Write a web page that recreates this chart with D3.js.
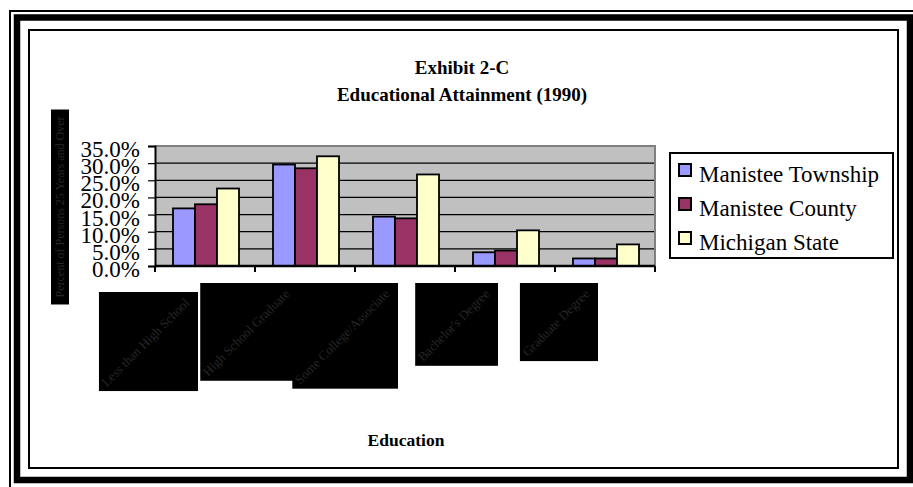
<!DOCTYPE html>
<html>
<head>
<meta charset="utf-8">
<script src="https://d3js.org/d3.v7.min.js"></script>
<style>
body { margin: 0; background: #fff; }
text { font-family: "Liberation Serif", "Times New Roman", serif; }
</style>
</head>
<body>
<div class="content"></div>
<script>

// values (share of adults, %)
var categories = ['Less than High School', 'High School Graduate', 'Some College/Associate', "Bachelor's Degree", 'Graduate Degree'];
var series = ['Manistee Township', 'Manistee County', 'Michigan State'];
var township = [16.8, 29.6, 14.4, 4.0, 2.2];
var county = [18.0, 28.5, 13.9, 4.5, 2.2];
var michigan = [22.6, 32.0, 26.7, 10.4, 6.3];
var yTicks = [0, 5, 10, 15, 20, 25, 30, 35];
var colors = ['#9999FF', '#993366', '#FFFFCC'];

var values = [township, county, michigan];

var svgWidth = 913,
    svgHeight = 487;

var svg = d3.select('div.content')
    .append('svg')
        .attr('width', svgWidth)
        .attr('height', svgHeight)

// frame
svg.append('rect')
    .attr('x', 10).attr('y', 11)
    .attr('width', 920).attr('height', 500)
    .style('fill', 'none').style('stroke', 'black').style('stroke-width', 2)
svg.append('rect')
    .attr('x', 17).attr('y', 17.5)
    .attr('width', 893).attr('height', 462.5)
    .style('fill', 'none').style('stroke', 'black').style('stroke-width', 6.5)
svg.append('rect')
    .attr('x', 29).attr('y', 30)
    .attr('width', 869).attr('height', 438)
    .style('fill', '#fff').style('stroke', 'black').style('stroke-width', 2)

var plotLeft = 155, plotRight = 655, plotTop = 146, plotBottom = 266;

var x0 = d3.scaleBand()
    .domain(categories)
    .range([plotLeft, plotRight])

var x1 = d3.scaleBand()
    .domain(series)
    .range([18, 84])

var y = d3.scaleLinear()
    .domain([0, 35])
    .range([plotBottom, plotTop])

// plot area
svg.append('rect')
    .attr('x', plotLeft).attr('y', plotTop)
    .attr('width', plotRight - plotLeft).attr('height', plotBottom - plotTop)
    .style('fill', '#C0C0C0')

svg.selectAll('line.grid')
    .data(yTicks.filter(function(d){ return d > 0 && d < 35 }))
    .enter()
    .append('line')
        .attr('class', 'grid')
        .attr('x1', plotLeft).attr('x2', plotRight)
        .attr('y1', function(d){ return y(d) }).attr('y2', function(d){ return y(d) })
        .style('stroke', 'black').style('stroke-width', 1.2)

// gray border top and right
svg.append('path')
    .attr('d', 'M' + plotLeft + ',' + y(35) + 'H' + plotRight + 'V' + plotBottom)
    .style('fill', 'none').style('stroke', '#808080').style('stroke-width', 2)

// bars
var groups = svg.selectAll('g.cat')
    .data(categories)
    .enter()
    .append('g')
        .attr('class', 'cat')
        .attr('transform', function(d){ return 'translate(' + x0(d) + ',0)' })

groups.selectAll('rect')
    .data(function(d, i){ return series.map(function(s, j){ return {s: s, j: j, v: values[j][i]} }) })
    .enter()
    .append('rect')
        .attr('x', function(d){ return x1(d.s) })
        .attr('width', x1.bandwidth())
        .attr('y', function(d){ return y(d.v) })
        .attr('height', function(d){ return y(0) - y(d.v) })
        .style('fill', function(d){ return colors[d.j] })
        .style('stroke', 'black')
        .style('stroke-width', 1.8)

// y axis
var yAxis = d3.axisLeft(y)
    .tickValues(yTicks)
    .tickSize(7)
    .tickPadding(8)
    .tickFormat(function(d){ return d.toFixed(1) + '%' })

var yg = svg.append('g')
    .attr('transform', 'translate(' + plotLeft + ',0)')
    .call(yAxis)
yg.select('.domain').style('stroke', 'black').style('stroke-width', 2)
yg.selectAll('.tick line').style('stroke', 'black').style('stroke-width', 1.2)
yg.selectAll('.tick text')
    .attr('dy', 10.5)
    .style('font-family', '"Liberation Serif", serif')
    .style('font-size', '23px')
    .style('fill', 'black')

// x axis line and ticks at category edges
svg.append('line')
    .attr('x1', plotLeft).attr('x2', plotRight)
    .attr('y1', plotBottom).attr('y2', plotBottom)
    .style('stroke', 'black').style('stroke-width', 2.5)

svg.selectAll('line.xtick')
    .data(categories.map(function(d){ return x0(d) }).concat([plotRight]))
    .enter()
    .append('line')
        .attr('class', 'xtick')
        .attr('x1', function(d){ return d }).attr('x2', function(d){ return d })
        .attr('y1', plotBottom).attr('y2', plotBottom + 6)
        .style('stroke', 'black').style('stroke-width', 2)

// category labels, shown as dark boxes with faint rotated text
groups.each(function(d, i) {
    var g = d3.select(this)
    var lab = g.append('g')
    var t = lab.append('text')
        .text(d)
        .style('font-size', '13px')
        .style('fill', '#262626')
        .style('text-anchor', 'middle')
    var len = t.node().getComputedTextLength()
    var side = (len + 22) * Math.SQRT1_2
    var cx = x0.bandwidth() / 2 - 7 - side / 2,
        cy = (i == 0 ? 292 : 283) + side / 2
    lab.insert('rect', 'text')
        .attr('x', cx - side / 2).attr('y', cy - side / 2)
        .attr('width', side).attr('height', side)
        .style('fill', 'black')
    t.attr('transform', 'translate(' + cx + ',' + (cy + 4) + ') rotate(-45)')
})

// y axis title box
var ytitle = svg.append('g')
var yt = ytitle.append('text')
    .text('Percent of Persons 25 Years and Over')
    .style('font-size', '12px')
    .style('fill', '#262626')
    .style('text-anchor', 'middle')
var ylen = yt.node().getComputedTextLength()
ytitle.insert('rect', 'text')
    .attr('x', 51).attr('y', 207 - (ylen + 14) / 2)
    .attr('width', 18).attr('height', ylen + 14)
    .style('fill', 'black')
yt.attr('transform', 'translate(64,207) rotate(-90)')

// titles
svg.append('text')
    .text('Exhibit 2-C')
    .attr('x', 462).attr('y', 74)
    .style('text-anchor', 'middle').style('font-weight', 'bold').style('font-size', '19px')
svg.append('text')
    .text('Educational Attainment (1990)')
    .attr('x', 462).attr('y', 101)
    .style('text-anchor', 'middle').style('font-weight', 'bold').style('font-size', '19px')
svg.append('text')
    .text('Education')
    .attr('x', 406).attr('y', 445.5)
    .style('text-anchor', 'middle').style('font-weight', 'bold').style('font-size', '17.5px')

// legend
var legend = svg.append('g')
    .attr('transform', 'translate(670,153)')

legend.append('rect')
    .attr('width', 223).attr('height', 105)
    .style('fill', 'white').style('stroke', 'black').style('stroke-width', 2)

var items = legend.selectAll('g.item')
    .data(series)
    .enter()
    .append('g')
        .attr('class', 'item')
        .attr('transform', function(d, i){ return 'translate(0,' + (i * 34) + ')' })

items.append('rect')
    .attr('x', 9).attr('y', 11)
    .attr('width', 12).attr('height', 12)
    .style('fill', function(d, i){ return colors[i] })
    .style('stroke', 'black').style('stroke-width', 2)

items.append('text')
    .text(function(d){ return d })
    .attr('x', 29).attr('y', 29)
    .style('font-size', '23px')

</script>
</body>
</html>
